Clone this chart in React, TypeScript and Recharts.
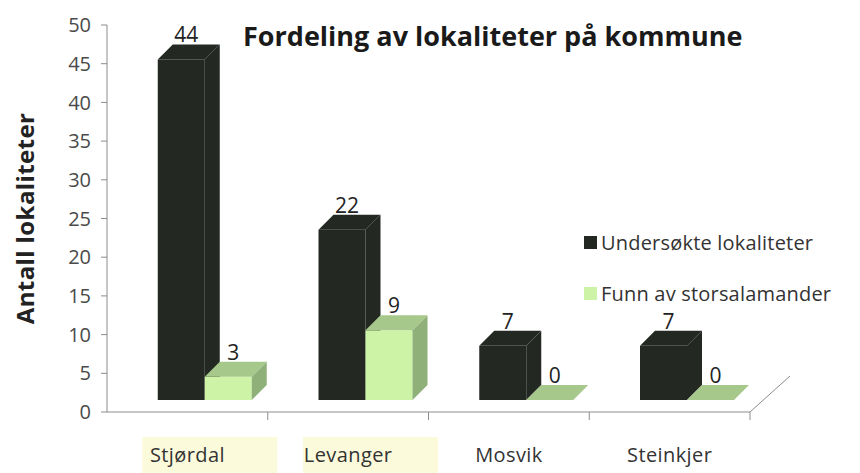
import React from 'react';
import { BarChart, Bar, XAxis, YAxis, LabelList } from 'recharts';

// Data
const kommuner = ['Stjørdal', 'Levanger', 'Mosvik', 'Steinkjer'];
const undersokte = [44, 22, 7, 7];
const funn = [3, 9, 0, 0];
const yTicks = [0, 5, 10, 15, 20, 25, 30, 35, 40, 45, 50];
const highlighted = ['Stjørdal', 'Levanger'];

const data = kommuner.map((kommune, i) => ({
    kommune,
    undersokte: undersokte[i],
    funn: funn[i],
}));

const FONT = '"Open Sans", "DejaVu Sans", sans-serif';
const AXIS = '#8c8c8c';
const DARK = '#232823';
const GREEN = '#cdf3a6';

// fake 3D: front face is pushed a bit right/up, depth goes up-right
const SHIFT_X = 17;
const SHIFT_Y = -12;
const DEPTH = 15;

const makeBar3D = (front: string, top: string, side: string) => (props: any) => {
    const { x, y, width, height } = props;
    if (x == null || y == null) return null;
    const fx = x + SHIFT_X;
    const fy = y + SHIFT_Y;
    const h = Math.max(height, 0);
    const topPts = `${fx},${fy} ${fx + DEPTH},${fy - DEPTH} ${fx + width + DEPTH},${fy - DEPTH} ${fx + width},${fy}`;
    const sidePts = `${fx + width},${fy} ${fx + width + DEPTH},${fy - DEPTH} ${fx + width + DEPTH},${fy + h - DEPTH} ${fx + width},${fy + h}`;
    return (
        <g>
            {h > 0 && <rect x={fx} y={fy} width={width} height={h} fill={front} />}
            {h > 0 && <polygon points={sidePts} fill={side} />}
            <polygon points={topPts} fill={top} />
        </g>
    );
};

const DarkBar = makeBar3D(DARK, DARK, DARK);
const GreenBar = makeBar3D(GREEN, '#a6c98b', '#8fb078');

const ValueLabel = (props: any) => {
    const { x, y, width, value } = props;
    return (
        <text
            x={x + SHIFT_X + width / 2 + 5}
            y={y + SHIFT_Y - DEPTH - 2}
            textAnchor="middle"
            fontFamily={FONT}
            fontSize={21}
            fill="#222"
        >
            {value}
        </text>
    );
};

const KommuneTick = (props: any) => {
    const { x, y, payload, index } = props;
    const half = payload.offset ?? 80;
    const hl = highlighted.includes(payload.value);
    const last = index === kommuner.length - 1;
    return (
        <g>
            <line x1={x + half} y1={y} x2={x + half} y2={y + 8} stroke={AXIS} />
            {last && <line x1={x + half} y1={y} x2={x + half + 40} y2={y - 36} stroke={AXIS} />}
            {hl && <rect x={x - 45} y={y + 25} width={135} height={40} fill="#f7f4b0" opacity={0.45} />}
            <text
                x={x}
                y={y + 50}
                textAnchor="middle"
                fontFamily={FONT}
                fontSize={20}
                letterSpacing={0.4}
                fill="#333"
            >
                {payload.value}
            </text>
        </g>
    );
};

const YTitle = (props: any) => {
    const { viewBox } = props;
    const cx = viewBox.x + 24;
    const cy = viewBox.y + viewBox.height / 2;
    return (
        <text
            x={cx}
            y={cy}
            transform={`rotate(-90 ${cx} ${cy})`}
            textAnchor="middle"
            dominantBaseline="central"
            fontFamily={FONT}
            fontWeight="bold"
            fontSize={24}
            letterSpacing={0.4}
            fill="#222"
        >
            Antall lokaliteter
        </text>
    );
};

const legendItems = [
    { name: 'Undersøkte lokaliteter', color: DARK },
    { name: 'Funn av storsalamander', color: GREEN },
];

export default function App() {
    return (
        <div style={{ position: 'absolute', left: 0, top: 0, width: 860, height: 473, background: '#fff' }}>
            <BarChart
                width={860}
                height={473}
                data={data}
                margin={{ top: 25, right: 110, bottom: 0, left: 0 }}
                barGap={0}
                barCategoryGap="21%"
            >
                <XAxis
                    dataKey="kommune"
                    stroke={AXIS}
                    tickLine={false}
                    tickSize={0}
                    tickMargin={0}
                    height={61}
                    interval={0}
                    tick={<KommuneTick />}
                />
                <YAxis
                    domain={[0, 50]}
                    ticks={yTicks}
                    interval={0}
                    width={107}
                    stroke={AXIS}
                    tickSize={6}
                    tickMargin={10}
                    tick={{ fontFamily: FONT, fontSize: 20, fill: '#4a4a4a' }}
                    label={<YTitle />}
                />
                <Bar dataKey="undersokte" name="Undersøkte lokaliteter" shape={<DarkBar />} isAnimationActive={false}>
                    <LabelList dataKey="undersokte" content={<ValueLabel />} />
                </Bar>
                <Bar dataKey="funn" name="Funn av storsalamander" shape={<GreenBar />} isAnimationActive={false}>
                    <LabelList dataKey="funn" content={<ValueLabel />} />
                </Bar>
            </BarChart>
            <div
                style={{
                    position: 'absolute',
                    left: 243,
                    top: 17,
                    fontFamily: FONT,
                    fontWeight: 'bold',
                    fontSize: 27,
                    color: '#1a1a1a',
                    whiteSpace: 'nowrap',
                }}
            >
                Fordeling av lokaliteter på kommune
            </div>
            <div style={{ position: 'absolute', left: 584, top: 228, fontFamily: FONT, fontSize: 20, color: '#333' }}>
                {legendItems.map((item, i) => (
                    <div key={i} style={{ display: 'flex', alignItems: 'center', height: 28, marginBottom: i === 0 ? 23 : 0 }}>
                        <span style={{ width: 13, height: 13, background: item.color, marginRight: 4 }} />
                        <span style={{ letterSpacing: 0.2 }}>{item.name}</span>
                    </div>
                ))}
            </div>
        </div>
    );
}
